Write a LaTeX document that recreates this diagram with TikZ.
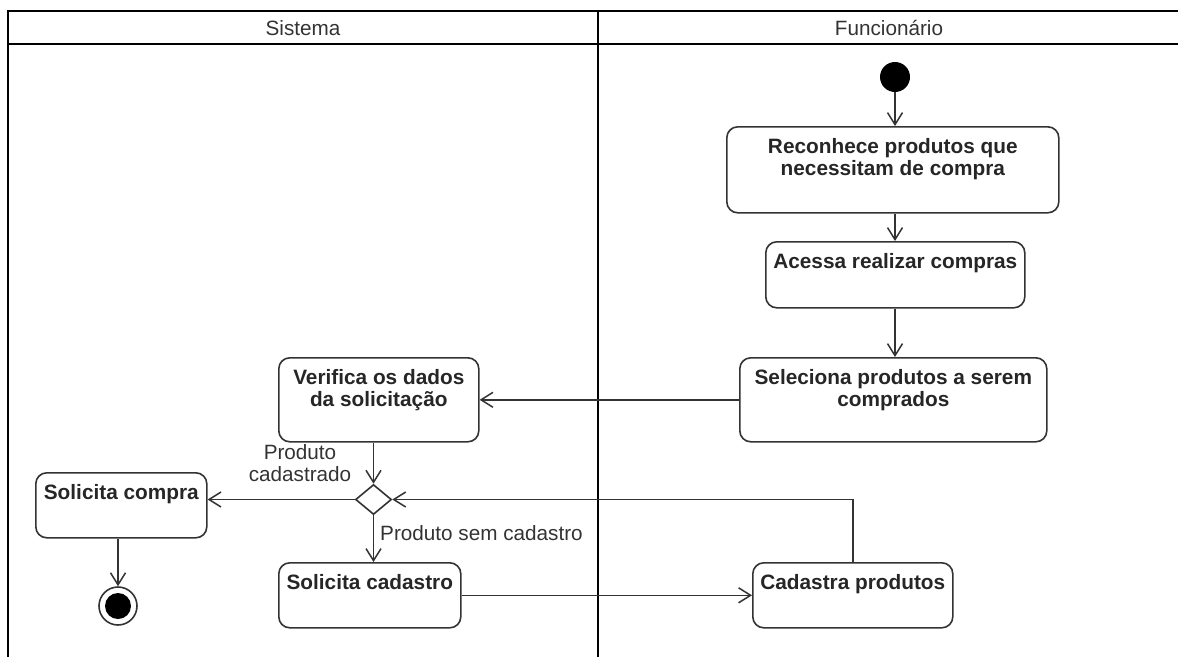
\documentclass[tikz,border=0pt]{standalone}
\usepackage{fontspec}
\setmainfont{Liberation Sans}
\usetikzlibrary{arrows.meta,shapes.geometric}

\tikzset{
  lane/.style={line width=2.8pt, black},
  act/.style={draw=black!80, line width=1.6pt, rounded corners=11pt, anchor=north west, inner sep=0pt},
  acttxt/.style={anchor=north, yshift=-12pt, inner sep=0pt, align=center, text=black!85, font=\fontsize{20.8}{22}\selectfont\bfseries},
  flow/.style={draw=black!80, line width=1.6pt, -{Straight Barb[length=12pt, width=15pt, line width=1.5pt]}},
  txt/.style={inner sep=0pt, text=black!80, font=\fontsize{20.7}{22}\selectfont},
}

\begin{document}
\begin{tikzpicture}[x=1pt,y=1pt,yscale=-1,xscale=1]
\path[use as bounding box] (0,0) rectangle (1178,657);

%Swimlanes
\draw[lane] (1178,11) -- (8,11) -- (8,657);
\draw[lane] (8,44) -- (1178,44);
\draw[lane] (598,11) -- (598,657);
% Text Node
\node[txt] (hsis) at (303,28) {Sistema};
% Text Node
\node[txt] (hfun) at (889,28) {Funcionário};

%Initial node
\node[circle, fill=black, minimum size=30pt, inner sep=0pt] (start) at (895,77) {};
%Activities
\node[act, minimum width=332pt, minimum height=86pt, label={[acttxt]north:Reconhece produtos que\\necessitam de compra}] (rec) at (726,126) {};
\node[act, minimum width=259pt, minimum height=66pt, label={[acttxt]north:Acessa realizar compras}] (acc) at (765,241) {};
\node[act, minimum width=307pt, minimum height=84pt, label={[acttxt]north:Seleciona produtos a serem\\comprados}] (sel) at (739,357) {};
\node[act, minimum width=200pt, minimum height=84pt, label={[acttxt]north:Verifica os dados\\da solicitação}] (ver) at (278,357) {};
\node[act, minimum width=171pt, minimum height=65pt, label={[acttxt]north:Solicita compra}] (sco) at (35,472) {};
\node[act, minimum width=182pt, minimum height=65pt, label={[acttxt]north:Solicita cadastro}] (scad) at (278,562) {};
\node[act, minimum width=200pt, minimum height=65pt, label={[acttxt]north:Cadastra produtos}] (cad) at (752,562) {};
%Decision
\node[diamond, draw=black!80, line width=1.6pt, minimum width=36pt, minimum height=30pt, inner sep=0pt] (dec) at (373.5,499.5) {};
%Final node
\node[circle, draw=black!80, line width=1.6pt, minimum size=38pt, inner sep=0pt] (fin) at (118,606) {};
\fill (fin.center) circle (13);

%Flows
\draw[flow] (start) -- (rec.north -| start);
\draw[flow] (rec.south -| start) -- (acc.north -| start);
\draw[flow] (acc.south -| start) -- (sel.north -| start);
\draw[flow] (sel.west) -- (ver.east);
\draw[flow] (ver.south -| dec.north) -- (dec.north);
\draw[flow] (dec.west) -- (dec.west -| sco.east);
\draw[flow] (dec.south) -- (dec.south |- scad.north);
\draw[flow] (scad.east) -- (cad.west);
\draw[flow] (cad.north) |- (dec.east);
\draw[flow] (sco.south -| fin) -- (fin.north);

% Text Node
\node[txt, align=center] (lcad) at (300,463) {Produto\\cadastrado};
% Text Node
\node[txt, anchor=west] (lsem) at (380,533) {Produto sem cadastro};

\end{tikzpicture}
\end{document}
